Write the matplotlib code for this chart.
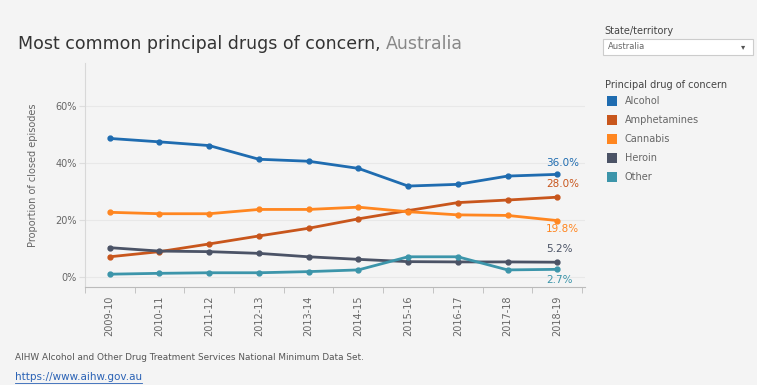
import matplotlib.pyplot as plt
from matplotlib.patches import Rectangle

years = ['2009-10', '2010-11', '2011-12', '2012-13', '2013-14',
         '2014-15', '2015-16', '2016-17', '2017-18', '2018-19']
drugs = ['Alcohol', 'Amphetamines', 'Cannabis', 'Heroin', 'Other']
alcohol = [48.6, 47.4, 46.1, 41.3, 40.6, 38.1, 31.9, 32.5, 35.4, 36.0]
amphetamines = [7.1, 8.9, 11.6, 14.4, 17.1, 20.4, 23.3, 26.1, 27.0, 28.0]
cannabis = [22.7, 22.2, 22.2, 23.7, 23.7, 24.5, 22.9, 21.8, 21.6, 19.8]
heroin = [10.3, 9.1, 8.9, 8.3, 7.1, 6.2, 5.4, 5.3, 5.3, 5.2]
other = [1.0, 1.3, 1.5, 1.5, 1.9, 2.5, 7.1, 7.1, 2.5, 2.7]
series = [alcohol, amphetamines, cannabis, heroin, other]
colors = ['#1f6cb0', '#c8561c', '#ff8620', '#4b5366', '#3c95aa']
end_labels = ['36.0%', '28.0%', '19.8%', '5.2%', '2.7%']

bg = '#f4f4f4'
fig = plt.figure(figsize=(7.57, 3.85), dpi=100, facecolor=bg)
ax = fig.add_axes([0.112, 0.2545, 0.661, 0.5815], facecolor=bg)

x = range(len(years))
for vals, c in zip(series, colors):
    ax.plot(x, vals, color=c, lw=2, marker='o', ms=3.5, zorder=3)

# end labels, nudged above/below the last point
offsets = [8, 9.5, -6, 9.5, -8]
for vals, c, lab, off in zip(series, colors, end_labels, offsets):
    ax.annotate(lab, (9, vals[-1]), xytext=(-8, off), textcoords='offset points',
                ha='left', va='center', color=c, fontsize=7.5, zorder=4)

ax.set_xlim(-0.46, 9.56)
ax.set_ylim(-3.5, 75)
ax.set_yticks([0, 20, 40, 60])
ax.set_yticklabels(['0%', '20%', '40%', '60%'], color='#666666', fontsize=7)
ax.set_xticks(list(x))
ax.set_xticklabels(years, rotation=90, color='#666666', fontsize=7)
ax.set_xticks([i + 0.5 for i in range(-1, 10)], minor=True)
ax.tick_params(axis='x', which='major', length=0, pad=6)
ax.tick_params(axis='x', which='minor', length=4, color='#bbbbbb')
ax.tick_params(axis='y', length=4, color='#dddddd', pad=2)
ax.set_ylabel('Proportion of closed episodes', color='#666666', fontsize=7, labelpad=12)
for y in [0, 20, 40, 60]:
    ax.axhline(y, color='#e8e8e8', lw=0.8, zorder=1)
for s in ['top', 'right']:
    ax.spines[s].set_visible(False)
ax.spines['left'].set_color('#d8d8d8')
ax.spines['bottom'].set_color('#bbbbbb')

# title (two colours)
t1 = fig.text(0.024, 0.885, 'Most common principal drugs of concern, ', fontsize=12.5,
              color='#333333', va='center')
fig.canvas.draw()
bb = t1.get_window_extent()
fig.text(bb.x1 / fig.bbox.width, 0.885, 'Australia', fontsize=12.5, color='#888888', va='center')

# filter box
fig.text(0.799, 0.92, 'State/territory', fontsize=7, color='#444444', va='center')
fig.patches.append(Rectangle((0.797, 0.858), 0.198, 0.04, transform=fig.transFigure,
                             facecolor='white', edgecolor='#cccccc', lw=0.8))
fig.text(0.803, 0.878, 'Australia', fontsize=6, color='#666666', va='center')
fig.text(0.985, 0.878, '▾', fontsize=6, color='#555555', va='center', ha='right')

# legend
fig.text(0.799, 0.778, 'Principal drug of concern', fontsize=7, color='#444444', va='center')
for i, (d, c) in enumerate(zip(drugs, colors)):
    yc = 0.737 - i * 0.0495
    fig.patches.append(Rectangle((0.802, yc - 0.013), 0.013, 0.026,
                                 transform=fig.transFigure, facecolor=c, edgecolor='none'))
    fig.text(0.825, yc, d, fontsize=7, color='#666666', va='center')

# source
fig.text(0.02, 0.072, 'AIHW Alcohol and Other Drug Treatment Services National Minimum Data Set.',
         fontsize=6.4, color='#555555', va='center')
link = fig.text(0.02, 0.022, 'https://www.aihw.gov.au', fontsize=7.5, color='#2a62b5', va='center')
fig.canvas.draw()
lb = link.get_window_extent()
fig.lines.append(plt.Line2D([lb.x0 / fig.bbox.width, lb.x1 / fig.bbox.width], [0.006, 0.006],
                            transform=fig.transFigure, color='#2a62b5', lw=0.6))

fig.savefig('out.png', dpi=100, facecolor=bg)
